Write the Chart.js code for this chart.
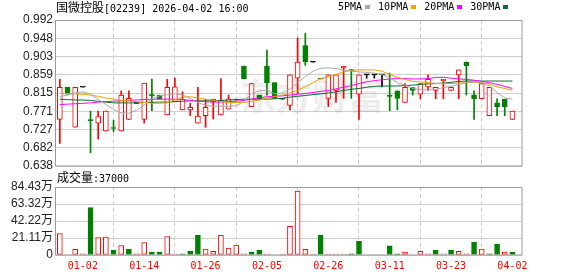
<!DOCTYPE html>
<html>
<head>
<meta charset="utf-8">
<script src="https://cdn.jsdelivr.net/npm/chart.js@4.4.1/dist/chart.umd.min.js"></script>
<style>
    html, body { margin: 0; padding: 0; background: #fff; }
    #wrap { position: relative; width: 578px; height: 276px; overflow: hidden; }
    canvas { position: absolute; left: 0; }
    #price-chart { top: 0; }
    #vol-chart { top: 170px; }
    .label { position: absolute; font-family: "DejaVu Sans Mono", monospace; font-size: 10px; color: #000; white-space: nowrap; line-height: 14px; }
    .cjk { font-family: "Noto Sans CJK SC"; font-size: 12px; }
    .box { display: inline-block; width: 5px; height: 4px; margin: 0 8px 1px 3px; vertical-align: middle; }
</style>
</head>
<body>
<div id="wrap">
    <canvas id="price-chart" width="578" height="180"></canvas>
    <canvas id="vol-chart" width="578" height="106"></canvas>
    <div class="label" style="left:56px; top:0px"><span class="cjk">国微控股</span>[02239] 2026-04-02 16:00</div>
    <div class="label" id="legend" style="left:338px; top:0px"></div>
    <div class="label" style="left:57px; top:170px"><span class="cjk">成交量</span>:37000</div>
</div>
<script>
// 日付
const dates = ['12-29', '12-30', '12-31', '01-02', '01-05', '01-06', '01-07', '01-08', '01-09', '01-12',
    '01-13', '01-14', '01-15', '01-16', '01-19', '01-20', '01-21', '01-22', '01-23', '01-26',
    '01-27', '01-28', '01-29', '01-30', '02-02', '02-03', '02-04', '02-05', '02-06', '02-09',
    '02-10', '02-11', '02-12', '02-13', '02-25', '02-26', '02-27', '03-02', '03-03', '03-04',
    '03-05', '03-06', '03-10', '03-11', '03-12', '03-13', '03-16', '03-17', '03-18', '03-19',
    '03-20', '03-23', '03-24', '03-25', '03-26', '03-27', '03-30', '03-31', '04-01', '04-02'];
const dateTickIndex = [3, 11, 19, 27, 35, 43, 51, 59];

// 四本値
const openPrices = [0.751, 0.829, 0.732, 0.829, 0.750, 0.742, 0.723, 0.730, 0.723, 0.751,
    0.790, 0.751, 0.811, 0.810, 0.762, 0.794, 0.774, 0.774, 0.742, 0.760,
    0.794, 0.762, 0.776, 0.798, 0.880, 0.782, 0.810, 0.880, 0.840, 0.800,
    0.785, 0.851, 0.930, 0.890, 0.8495, 0.802, 0.821, 0.876, 0.872, 0.812,
    0.859, 0.859, 0.859, 0.809, 0.820, 0.792, 0.828, 0.812, 0.830, 0.821,
    0.845, 0.821, 0.859, 0.890, 0.810, 0.801, 0.760, 0.791, 0.800, 0.751];
const highPrices = [0.848, 0.829, 0.829, 0.829, 0.771, 0.771, 0.771, 0.749, 0.820, 0.820,
    0.790, 0.839, 0.849, 0.810, 0.848, 0.851, 0.818, 0.790, 0.829, 0.800,
    0.800, 0.850, 0.810, 0.798, 0.880, 0.838, 0.810, 0.919, 0.840, 0.800,
    0.859, 0.948, 0.960, 0.890, 0.8495, 0.859, 0.859, 0.880, 0.872, 0.859,
    0.859, 0.859, 0.859, 0.863, 0.820, 0.838, 0.828, 0.838, 0.859, 0.829,
    0.848, 0.829, 0.871, 0.890, 0.820, 0.838, 0.829, 0.801, 0.800, 0.771];
const lowPrices = [0.693, 0.812, 0.732, 0.829, 0.670, 0.703, 0.723, 0.721, 0.723, 0.751,
    0.790, 0.742, 0.772, 0.800, 0.762, 0.794, 0.774, 0.760, 0.742, 0.732,
    0.752, 0.762, 0.776, 0.798, 0.849, 0.782, 0.800, 0.810, 0.802, 0.800,
    0.774, 0.813, 0.882, 0.890, 0.849, 0.782, 0.792, 0.802, 0.802, 0.751,
    0.851, 0.851, 0.830, 0.772, 0.774, 0.792, 0.810, 0.801, 0.821, 0.801,
    0.801, 0.821, 0.801, 0.810, 0.751, 0.801, 0.760, 0.760, 0.760, 0.751];
const closePrices = [0.829, 0.812, 0.829, 0.829, 0.748, 0.758, 0.771, 0.729, 0.810, 0.802,
    0.790, 0.839, 0.808, 0.801, 0.829, 0.830, 0.800, 0.780, 0.759, 0.780,
    0.800, 0.798, 0.801, 0.798, 0.849, 0.838, 0.800, 0.840, 0.802, 0.800,
    0.859, 0.890, 0.891, 0.890, 0.849, 0.859, 0.859, 0.880, 0.869, 0.859,
    0.859, 0.859, 0.859, 0.807, 0.802, 0.829, 0.821, 0.838, 0.848, 0.829,
    0.848, 0.829, 0.871, 0.881, 0.801, 0.838, 0.829, 0.782, 0.782, 0.771];

// 成交量（株）と方向（1:上昇 -1:下落 0:なし）
const volumes = [265000, 0, 70000, 15000, 590000, 217000, 224000, 61000, 118000, 73000,
    15000, 155000, 37000, 37000, 228000, 12000, 15000, 49000, 245000, 73000,
    45000, 245000, 86000, 122000, 15000, 37000, 61000, 12000, 0, 12000,
    355000, 795000, 70000, 12000, 245000, 12000, 12000, 12000, 15000, 170000,
    0, 0, 0, 114000, 15000, 35000, 0, 45000, 15000, 60000,
    15000, 60000, 45000, 15000, 160000, 73000, 15000, 135000, 35000, 37000];
const volDirection = [1, 0, 1, 1, -1, 1, 1, -1, 1, -1,
    1, 1, -1, -1, 1, 1, -1, -1, -1, 1,
    1, 1, 1, 1, 1, -1, -1, 1, 0, 1,
    1, 1, 1, 1, -1, 1, 1, 1, -1, -1,
    0, 0, 0, -1, -1, 1, 0, 1, 1, -1,
    1, -1, 1, 1, -1, 1, -1, -1, 1, -1];

// 移動平均
const ma5 = [0.806, 0.810, 0.815, 0.818, 0.812, 0.800, 0.787, 0.775, 0.767, 0.766,
    0.773, 0.786, 0.800, 0.808, 0.811, 0.813, 0.810, 0.802, 0.792, 0.785,
    0.783, 0.783, 0.783, 0.784, 0.795, 0.814, 0.820, 0.822, 0.813, 0.815,
    0.825, 0.840, 0.855, 0.868, 0.875, 0.876, 0.874, 0.871, 0.868, 0.866,
    0.865, 0.863, 0.860, 0.852, 0.840, 0.834, 0.826, 0.823, 0.822, 0.824,
    0.828, 0.831, 0.836, 0.840, 0.842, 0.841, 0.832, 0.816, 0.803, 0.800];
const ma10 = [0.814, 0.814, 0.813, 0.812, 0.810, 0.807, 0.803, 0.800, 0.797, 0.796,
    0.794, 0.792, 0.790, 0.790, 0.791, 0.798, 0.805, 0.806, 0.803, 0.800,
    0.797, 0.794, 0.792, 0.792, 0.792, 0.795, 0.798, 0.802, 0.806, 0.810,
    0.815, 0.822, 0.830, 0.840, 0.850, 0.855, 0.860, 0.866, 0.870, 0.871,
    0.871, 0.871, 0.868, 0.860, 0.853, 0.848, 0.843, 0.842, 0.840, 0.838,
    0.838, 0.838, 0.839, 0.840, 0.841, 0.840, 0.836, 0.830, 0.826, 0.822];
const ma20 = [0.787, 0.788, 0.789, 0.790, 0.791, 0.793, 0.794, 0.795, 0.796, 0.797,
    0.798, 0.799, 0.800, 0.800, 0.800, 0.800, 0.799, 0.797, 0.795, 0.794,
    0.793, 0.793, 0.794, 0.795, 0.797, 0.800, 0.803, 0.806, 0.807, 0.808,
    0.810, 0.812, 0.814, 0.816, 0.819, 0.821, 0.825, 0.829, 0.833, 0.838,
    0.842, 0.845, 0.847, 0.849, 0.850, 0.850, 0.849, 0.849, 0.850, 0.853,
    0.853, 0.851, 0.849, 0.848, 0.846, 0.843, 0.840, 0.836, 0.831, 0.826];
const ma30 = [0.800, 0.799, 0.798, 0.798, 0.797, 0.795, 0.793, 0.791, 0.791, 0.791,
    0.791, 0.792, 0.792, 0.793, 0.793, 0.794, 0.795, 0.796, 0.796, 0.796,
    0.796, 0.797, 0.798, 0.799, 0.800, 0.800, 0.800, 0.800, 0.801, 0.802,
    0.805, 0.807, 0.809, 0.811, 0.813, 0.815, 0.818, 0.821, 0.824, 0.826,
    0.829, 0.831, 0.832, 0.832, 0.832, 0.833, 0.834, 0.836, 0.837, 0.838,
    0.839, 0.841, 0.843, 0.844, 0.844, 0.844, 0.844, 0.844, 0.844, 0.844];

// 目盛り
const priceTickLabels = ['0.638', '0.682', '0.727', '0.771', '0.815', '0.859', '0.903', '0.948', '0.992'];
const priceMin = 0.638;
const priceMax = 0.992;
const volTickLabels = ['0', '21.11万', '42.22万', '63.32万', '84.43万'];
const volMax = 844300;

const maNames = ['5PMA', '10PMA', '20PMA', '30PMA'];

// 色
const RED = '#ff0000';
const GREEN = '#008000';
const BLACK = '#000000';
const MA_COLORS = ['#a8a8a8', '#f0a000', '#ff00ff', '#0b6b32'];
const GRID = '#d0d0d0';
const FRAME = '#999999';
const AXIS_FONT = { family: '"Liberation Sans", Arial, "Noto Sans CJK SC"', size: 12 };

// 凡例
document.getElementById('legend').innerHTML = maNames.map((name, k) =>
    `${name}<span class="box" style="background:${MA_COLORS[k]}"></span>`).join('');

function candleColor(i) {
    if (closePrices[i] > openPrices[i]) return RED;
    if (closePrices[i] < openPrices[i]) return GREEN;
    return BLACK;
}

// 枠線
const framePlugin = {
    id: 'frame',
    afterDraw(chart) {
        const { ctx, chartArea: a } = chart;
        ctx.save();
        ctx.strokeStyle = FRAME;
        ctx.lineWidth = 1;
        ctx.strokeRect(a.left - 0.5, a.top + 0.5, a.right - a.left + 0.5, a.bottom - a.top - 0.5);
        ctx.restore();
    }
};

// 透かし
const watermarkPlugin = {
    id: 'watermark',
    beforeDatasetsDraw(chart) {
        const { ctx, chartArea: a } = chart;
        ctx.save();
        ctx.fillStyle = 'rgba(0, 0, 0, 0.07)';
        ctx.font = 'bold 36px "Noto Sans CJK SC"';
        ctx.textBaseline = 'alphabetic';
        ctx.fillText('东方财富', a.left + 184, a.top + 90);
        ctx.restore();
    }
};

function xScale(showLabels) {
    return {
        type: 'linear',
        min: -0.5,
        max: 60.25,
        offset: false,
        afterBuildTicks: axis => { axis.ticks = dateTickIndex.map(v => ({ value: v })); },
        afterFit: axis => { axis.height = showLabels ? 21 : 0; },
        ticks: {
            display: showLabels,
            autoSkip: false,
            maxRotation: 0,
            padding: 5,
            color: RED,
            font: { family: '"DejaVu Sans Mono", monospace', size: 10 },
            callback: v => dates[v]
        },
        grid: { color: '#cccccc', drawTicks: false },
        border: { display: false, dash: [4, 3] }
    };
}

// 価格チャート
const lineDatasets = [ma5, ma10, ma20, ma30].map((series, k) => ({
    type: 'line',
    label: maNames[k],
    data: series.map((v, i) => ({ x: i, y: v })),
    borderColor: MA_COLORS[k],
    borderWidth: 1,
    pointRadius: 0,
    tension: 0,
    order: 0
}));

new Chart(document.getElementById('price-chart'), {
    type: 'bar',
    data: {
        datasets: [
            ...lineDatasets,
            {
                label: 'body',
                data: openPrices.map((o, i) => ({ x: i, y: [o, closePrices[i]] })),
                grouped: false,
                barThickness: 5,
                minBarLength: 1,
                borderWidth: 1,
                borderSkipped: false,
                backgroundColor: ctx => candleColor(ctx.dataIndex) === RED ? '#ffffff' : candleColor(ctx.dataIndex),
                borderColor: ctx => candleColor(ctx.dataIndex),
                order: 1
            },
            {
                label: 'wick',
                data: lowPrices.map((l, i) => ({ x: i, y: [l, highPrices[i]] })),
                grouped: false,
                barThickness: 1,
                borderWidth: 0,
                backgroundColor: ctx => candleColor(ctx.dataIndex),
                order: 2
            }
        ]
    },
    options: {
        responsive: false,
        animation: false,
        layout: { padding: { top: 20, right: 56, bottom: 14, left: 0 } },
        plugins: { legend: { display: false }, tooltip: { enabled: false } },
        scales: {
            x: xScale(false),
            y: {
                min: priceMin,
                max: priceMax,
                afterBuildTicks: axis => {
                    axis.ticks = priceTickLabels.map((t, k) => ({
                        value: priceMin + (priceMax - priceMin) * k / (priceTickLabels.length - 1)
                    }));
                },
                afterFit: axis => { axis.width = 56; },
                ticks: { autoSkip: false, padding: 3, color: '#222222', font: AXIS_FONT, callback: (v, k) => priceTickLabels[k] },
                grid: { color: GRID, drawTicks: false },
                border: { display: false }
            }
        }
    },
    plugins: [watermarkPlugin, framePlugin]
});

// 成交量チャート
new Chart(document.getElementById('vol-chart'), {
    type: 'bar',
    data: {
        datasets: [{
            label: '成交量',
            data: volumes.map((v, i) => ({ x: i, y: v > 0 ? v : null })),
            grouped: false,
            barThickness: 5,
            borderWidth: 1,
            borderSkipped: false,
            backgroundColor: ctx => volDirection[ctx.dataIndex] > 0 ? '#ffffff' : GREEN,
            borderColor: ctx => volDirection[ctx.dataIndex] > 0 ? RED : GREEN
        }]
    },
    options: {
        responsive: false,
        animation: false,
        layout: { padding: { top: 17, right: 56, bottom: 0, left: 0 } },
        plugins: { legend: { display: false }, tooltip: { enabled: false } },
        scales: {
            x: xScale(true),
            y: {
                min: 0,
                max: volMax,
                afterBuildTicks: axis => {
                    axis.ticks = volTickLabels.map((t, k) => ({ value: volMax * k / (volTickLabels.length - 1) }));
                },
                afterFit: axis => { axis.width = 56; },
                ticks: { autoSkip: false, padding: 3, color: '#222222', font: AXIS_FONT, callback: (v, k) => volTickLabels[k] },
                grid: { color: GRID, drawTicks: false },
                border: { display: false }
            }
        }
    },
    plugins: [framePlugin]
});
</script>
</body>
</html>
